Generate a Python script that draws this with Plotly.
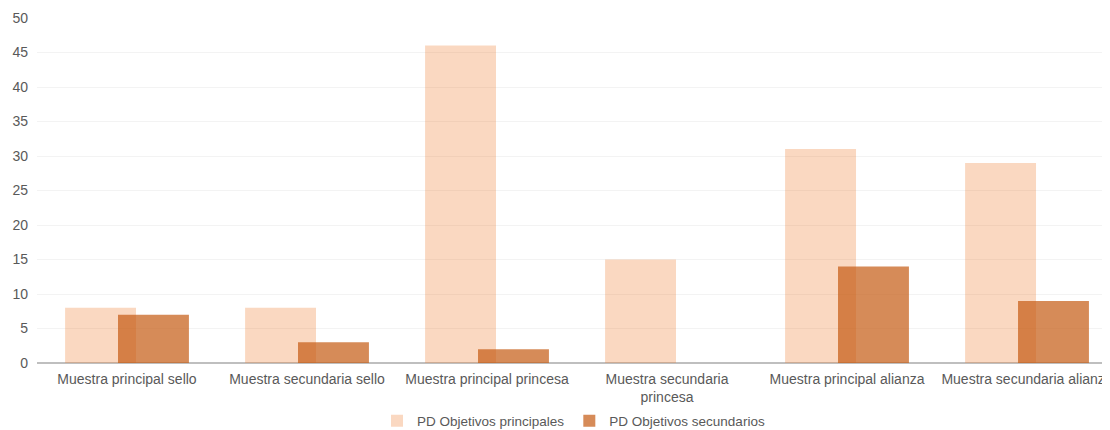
import plotly.graph_objects as go

categories = [
    "Muestra principal sello",
    "Muestra secundaria sello",
    "Muestra principal princesa",
    "Muestra secundaria princesa",
    "Muestra principal alianza",
    "Muestra secundaria alianza",
]
tick_labels = [
    "Muestra principal sello",
    "Muestra secundaria sello",
    "Muestra principal princesa",
    "Muestra secundaria<br>princesa",
    "Muestra principal alianza",
    "Muestra secundaria alianza",
]
principales = [8, 8, 46, 15, 31, 29]
secundarios = [7, 3, 2, 0, 14, 9]
y_ticks = [0, 5, 10, 15, 20, 25, 30, 35, 40, 45, 50]

font_color = "#595959"
x_idx = list(range(len(categories)))

fig = go.Figure()
fig.add_trace(go.Bar(
    x=x_idx, y=principales, name="PD Objetivos principales",
    offset=-0.344, width=0.394,
    marker=dict(color="rgba(237,125,49,0.30)", line=dict(width=0)),
))
fig.add_trace(go.Bar(
    x=x_idx, y=secundarios, name="PD Objetivos secundarios",
    offset=-0.05, width=0.394,
    marker=dict(color="rgba(197,90,17,0.70)", line=dict(width=0)),
))

fig.update_layout(
    width=1102, height=422,
    barmode="overlay",
    plot_bgcolor="white", paper_bgcolor="white",
    margin=dict(l=29, r=0, t=10, b=67, autoexpand=False),
    font=dict(family="Liberation Sans, Arial, sans-serif", size=14, color=font_color),
    showlegend=True,
    legend=dict(orientation="h", x=0.5, xanchor="center", y=-0.168, yanchor="middle",
                font=dict(size=13.5, color=font_color), traceorder="normal",
                itemwidth=30, tracegroupgap=0),
    xaxis=dict(
        tickmode="array", tickvals=x_idx, ticktext=tick_labels,
        range=[-0.5, 5.461], showgrid=False, zeroline=False,
        showline=False, ticks="", automargin=False,
        ticklabeloverflow="allow", ticklabelstandoff=6,
        tickfont=dict(size=14, color=font_color),
    ),
    yaxis=dict(
        range=[0, 50], tickvals=y_ticks, showgrid=True, gridcolor="#F3F3F3",
        gridwidth=1, zeroline=True, zerolinecolor="#BFBFBF", zerolinewidth=1.5,
        ticks="", automargin=False, ticklabelstandoff=8,
        tickfont=dict(size=14, color=font_color),
    ),
)

fig.write_html("out.html")
